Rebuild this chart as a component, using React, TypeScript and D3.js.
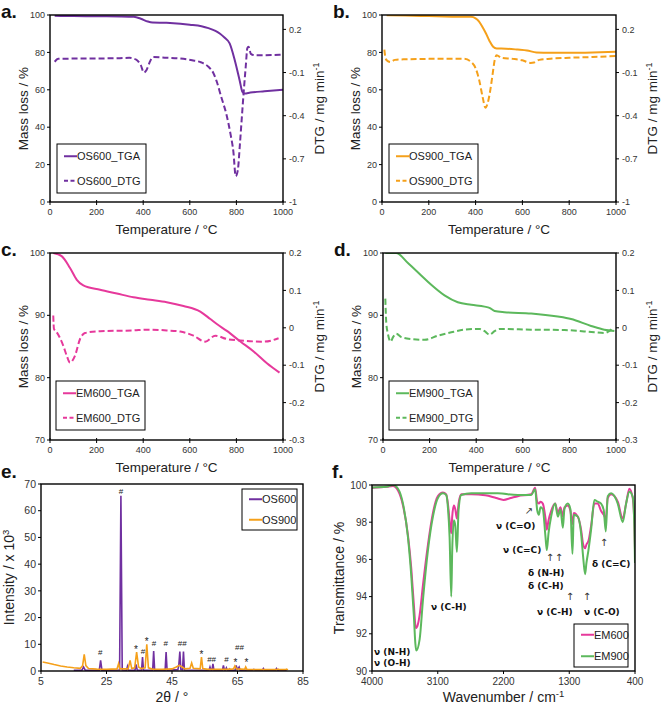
import React from 'react';
import * as d3 from 'd3';

const FONT = '"Liberation Sans", Arial, sans-serif';

// ---------- TGA / DTG data (temperature °C, value) ----------
const TEMP_TICKS = [0, 200, 400, 600, 800, 1000];

const OS600_TGA = [[20, 99.6], [100, 99.4], [200, 99.3], [300, 99.2], [360, 99], [390, 98], [420, 96.5], [440, 96], [500, 95.8], [560, 95.3], [600, 94.8], [650, 94], [680, 93], [710, 91.5], [730, 90], [750, 87.8], [771, 84.8], [793, 75.8], [814, 65], [826, 58.8], [835, 58], [860, 58.5], [920, 59.2], [1000, 60]];
const OS600_DTG = [[20, -0.025], [35, -0.005], [100, -0.003], [200, -0.002], [300, 0], [340, 0.002], [370, -0.01], [390, -0.05], [403, -0.1], [415, -0.08], [430, -0.02], [443, 0.008], [500, 0.003], [560, -0.003], [610, -0.015], [650, -0.03], [680, -0.06], [700, -0.1], [715, -0.16], [735, -0.27], [757, -0.39], [775, -0.53], [787, -0.65], [797, -0.82], [806, -0.78], [815, -0.6], [823, -0.42], [832, -0.22], [840, -0.06], [847, 0.07], [852, 0.08], [862, 0.03], [880, 0.02], [950, 0.022], [1000, 0.025]];

const OS900_TGA = [[20, 99.9], [100, 99.7], [200, 99.4], [300, 99.1], [380, 99], [400, 98.2], [415, 96.5], [430, 93.5], [445, 90], [460, 86], [475, 83], [490, 82.1], [530, 82], [580, 81.5], [620, 81], [660, 80], [720, 79.8], [800, 79.8], [900, 80], [1000, 80.4]];
const OS900_DTG = [[10, 0.06], [14, 0.01], [20, -0.015], [35, -0.027], [55, -0.012], [100, -0.008], [200, -0.005], [300, -0.004], [350, -0.004], [380, -0.025], [400, -0.07], [415, -0.15], [430, -0.27], [442, -0.345], [452, -0.31], [462, -0.23], [472, -0.12], [482, -0.01], [490, 0.02], [510, 0.002], [560, -0.005], [600, -0.015], [635, -0.033], [650, -0.03], [672, -0.012], [720, -0.004], [800, 0.003], [900, 0.008], [1000, 0.015]];

const EM600_TGA = [[14, 100], [50, 99.5], [86, 97.6], [115, 95.7], [143, 94.8], [215, 94.1], [287, 93.5], [358, 92.9], [430, 92.5], [501, 92.1], [573, 91.5], [645, 90.6], [688, 89.4], [716, 88.6], [759, 87.5], [817, 85.8], [874, 84.2], [931, 82.3], [985, 80.8]];
const EM600_DTG = [[14, 0.033], [17, -0.003], [29, -0.012], [57, -0.048], [72, -0.075], [86, -0.093], [107, -0.075], [129, -0.03], [150, -0.014], [215, -0.009], [358, -0.007], [415, -0.005], [501, -0.007], [559, -0.01], [616, -0.021], [666, -0.037], [709, -0.021], [759, -0.03], [817, -0.034], [917, -0.037], [981, -0.028]];

const EM900_TGA = [[10, 100], [57, 100], [107, 98.4], [164, 96.4], [207, 94.9], [264, 93.2], [321, 92.1], [379, 91.7], [436, 91.4], [457, 91.2], [479, 90.7], [521, 90.5], [636, 90.3], [750, 89.8], [807, 89.4], [893, 88.3], [950, 87.7], [993, 87.5]];
const EM900_DTG = [[10, 0.078], [14, 0.014], [21, -0.016], [33, -0.037], [43, -0.025], [57, -0.016], [79, -0.025], [121, -0.03], [179, -0.032], [236, -0.021], [293, -0.012], [350, -0.005], [414, -0.003], [436, -0.009], [457, -0.018], [479, -0.009], [500, -0.003], [636, -0.005], [779, -0.006], [907, -0.012], [950, -0.014], [990, 0.002]];

// ---------- XRD data (2θ, intensity x10^3) ----------
const TWO_THETA_TICKS = [5, 25, 45, 65, 85];
const INTENSITY_TICKS = [0, 10, 20, 30, 40, 50, 60, 70];

const OS600_XRD = [[15, 0.3], [17.5, 0.3], [18, 1.5], [18.5, 0.3], [22.8, 0.3], [23.2, 4], [23.6, 0.3], [29, 0.4], [29.4, 65.6], [29.8, 0.4], [31.1, 0.3], [31.4, 1.7], [31.7, 0.3], [33.7, 0.3], [34, 2.5], [34.4, 0.3], [35.7, 0.3], [36, 5.2], [36.3, 0.3], [39.1, 0.3], [39.4, 7.5], [39.7, 0.3], [42.9, 0.3], [43.2, 7.1], [43.5, 0.3], [46.8, 0.5], [47.1, 2.5], [47.4, 7.3], [47.7, 0.5], [48.2, 0.4], [48.5, 7.3], [48.8, 0.4], [56.3, 0.3], [56.6, 1.5], [56.9, 0.3], [57.2, 0.3], [57.5, 2.7], [57.8, 0.3], [60.4, 0.3], [60.7, 2.1], [61, 0.3], [61.3, 0.3], [61.6, 1.2], [61.9, 0.3], [64.3, 0.3], [64.6, 2.1], [64.9, 0.5], [65.5, 1.5], [65.8, 0.3], [69.5, 0.3], [70, 0.6], [70.4, 0.3], [72.6, 0.3], [72.9, 0.9], [73.2, 0.3], [76.6, 0.3], [76.9, 0.9], [77.2, 0.3], [80, 0.3]];
const OS900_XRD = [[5.5, 3.4], [7, 3.0], [9, 2.4], [11, 1.9], [13, 1.5], [15, 1.2], [17, 1.0], [17.7, 2], [18.2, 6.2], [18.7, 2], [19.5, 0.9], [22, 0.7], [25, 0.6], [28.2, 0.8], [28.7, 2.8], [29.1, 0.8], [31.6, 0.8], [32.2, 4], [32.7, 0.9], [33.6, 1.2], [34.2, 7.1], [34.8, 1.5], [35.6, 0.9], [36.8, 1.2], [37.3, 10], [37.8, 1.2], [39, 0.7], [42, 0.6], [45, 0.8], [46.3, 1.5], [47.2, 2.1], [48, 1.6], [49, 0.8], [50.5, 1], [51, 3], [51.5, 1], [53.6, 0.8], [54, 5.2], [54.4, 0.9], [56, 0.6], [62.2, 0.6], [62.6, 0.9], [63, 0.6], [63.8, 0.8], [64.2, 1.9], [64.7, 0.8], [67.2, 0.6], [67.5, 1.5], [67.9, 0.5], [77, 0.5], [77.4, 0.7], [77.8, 0.5], [79.6, 0.5], [80, 0.7], [80.4, 0.4]];
const XRD_MARKS: [number, number, string][] = [[23.1, 6.9, '#'], [29.4, 67.4, '#'], [34.0, 9.3, '*'], [36.1, 7.4, '#'], [37.3, 12.4, '*'], [39.5, 10.3, '#'], [43.1, 10.3, '#'], [48.1, 10.3, '##'], [54.0, 7.4, '*'], [57.1, 4.3, '##'], [61.6, 4.3, '#'], [64.4, 4.6, '*'], [65.6, 8.8, '##'], [67.7, 4.6, '*']];

// ---------- FTIR data (wavenumber cm-1, transmittance %) ----------
const WAVENUMBER_TICKS = [4000, 3100, 2200, 1300, 400];
const TRANSMITTANCE_TICKS = [90, 92, 94, 96, 98, 100];

const EM600_FTIR = [[4000, 99.85], [3800, 99.9], [3713, 99.95], [3644, 99.7], [3576, 98.9], [3508, 97.3], [3462, 95.5], [3426, 93.5], [3400, 92.3], [3380, 92.4], [3348, 93], [3303, 94.6], [3234, 96.8], [3166, 98.5], [3098, 99.4], [3029, 99.6], [2984, 99.5], [2961, 99.0], [2938, 98.1], [2915, 97.4], [2902, 98.3], [2879, 98.9], [2860, 98.7], [2838, 98.2], [2815, 99.0], [2779, 99.5], [2642, 99.5], [2450, 99.45], [2300, 99.3], [2200, 99.2], [2100, 99.3], [2004, 99.4], [1821, 99.5], [1767, 99.85], [1739, 99.1], [1716, 99.0], [1694, 99.1], [1662, 99.0], [1625, 98.2], [1607, 97.6], [1584, 98.1], [1548, 98.6], [1493, 99.0], [1456, 98.5], [1420, 98.8], [1388, 98.3], [1366, 98.8], [1320, 98.9], [1284, 98.6], [1256, 97.9], [1238, 98.5], [1183, 98.3], [1138, 97.6], [1109, 96.8], [1083, 96.6], [1065, 96.8], [1037, 97.0], [1001, 97.8], [956, 99.0], [910, 99.0], [864, 98.6], [828, 98.4], [800, 98.2], [773, 99.3], [727, 99.5], [636, 99.1], [568, 98.2], [522, 99.0], [477, 99.8], [431, 99.3], [408, 97.8], [400, 96.5]];
const EM900_FTIR = [[4000, 99.87], [3800, 99.9], [3713, 100], [3644, 99.8], [3576, 99.0], [3508, 97.2], [3462, 95.1], [3426, 92.9], [3407, 91.5], [3394, 91.1], [3348, 91.7], [3303, 93.8], [3234, 96.5], [3166, 98.3], [3098, 99.3], [3029, 99.55], [2984, 99.46], [2961, 98.8], [2938, 97.2], [2915, 94], [2902, 96.5], [2879, 98.1], [2860, 97.8], [2838, 96.4], [2815, 98.65], [2779, 99.46], [2642, 99.55], [2277, 99.55], [2004, 99.46], [1821, 99.46], [1767, 99.77], [1739, 98.65], [1716, 98.4], [1694, 98.8], [1662, 98.7], [1625, 97.2], [1607, 96.5], [1584, 97.4], [1548, 98.3], [1493, 99.0], [1456, 98.3], [1420, 98.7], [1388, 97.7], [1366, 98.7], [1320, 99.0], [1284, 98.7], [1256, 96.3], [1238, 98.4], [1183, 98.3], [1138, 97.4], [1109, 96.1], [1083, 95.2], [1065, 95.8], [1037, 96.5], [1001, 97.6], [956, 99.2], [910, 99.1], [864, 99.0], [828, 98.65], [800, 97.5], [773, 99.4], [727, 99.55], [636, 99.0], [568, 98.0], [522, 99.0], [477, 99.64], [431, 99.37], [408, 97.6], [400, 95.8]];

const PURPLE = '#7030a0';
const ORANGE = '#f5a01a';
const MAGENTA = '#e6399b';
const GREEN = '#5cb85c';

type Pt = number[];
type Box = { x0: number; x1: number; y0: number; y1: number };

function fmtNum(d: number) {
  return d3.format('~g')(d).replace('−', '-');
}

function Frame({ box }: { box: Box }) {
  return <rect x={box.x0} y={box.y0} width={box.x1 - box.x0} height={box.y1 - box.y0} fill="none" stroke="#000" strokeWidth={1.4} />;
}

function Legend({ x, y, w, h, items, fs }: { x: number; y: number; w: number; h: number; fs: number; items: { name: string; color: string; dash?: string }[] }) {
  const rowH = h / items.length;
  return (
    <g>
      <rect x={x} y={y} width={w} height={h} fill="#fff" stroke="#000" strokeWidth={1} />
      {items.map((it, i) => {
        const cy = y + rowH * (i + 0.5);
        return (
          <g key={it.name}>
            <line x1={x + 7} x2={x + 20} y1={cy} y2={cy} stroke={it.color} strokeWidth={2} strokeDasharray={it.dash} />
            <text x={x + 20} y={cy} dy="0.35em" fontSize={fs} fontFamily={FONT} fill="#222">{it.name}</text>
          </g>
        );
      })}
    </g>
  );
}

type TgaProps = {
  box: Box; label: string; leftDomain: number[]; leftTicks: number[]; rightDomain: number[]; rightTicks: number[];
  tga: Pt[]; dtg: Pt[]; color: string; names: string[]; legend: { x: number; y: number };
};

function TgaPanel(p: TgaProps) {
  const { x0, x1, y0, y1 } = p.box;
  const x = d3.scaleLinear().domain([0, 1000]).range([x0, x1]);
  const yL = d3.scaleLinear().domain(p.leftDomain).range([y1, y0]);
  const yR = d3.scaleLinear().domain(p.rightDomain).range([y1, y0]);
  const lineL = d3.line<Pt>().x(d => x(d[0])).y(d => yL(d[1])).curve(d3.curveMonotoneX);
  const lineR = d3.line<Pt>().x(d => x(d[0])).y(d => yR(d[1])).curve(d3.curveMonotoneX);
  const clipId = 'clip-' + p.label;
  const midY = (y0 + y1) / 2;
  return (
    <g>
      <defs>
        <clipPath id={clipId}><rect x={x0} y={y0} width={x1 - x0} height={y1 - y0} /></clipPath>
      </defs>
      <g clipPath={`url(#${clipId})`}>
        <path d={lineR(p.dtg) || ''} fill="none" stroke={p.color} strokeWidth={2} strokeDasharray="6,3" />
        <path d={lineL(p.tga) || ''} fill="none" stroke={p.color} strokeWidth={2} />
      </g>
      <Frame box={p.box} />
      {TEMP_TICKS.map(t => (
        <g key={'x' + t}>
          <line x1={x(t)} x2={x(t)} y1={y1 - 2} y2={y1 + 3} stroke="#000" />
          <text x={x(t)} y={y1 + 13} textAnchor="middle" fontSize={9} fontFamily={FONT} fill="#333">{t}</text>
        </g>
      ))}
      {p.leftTicks.map(t => (
        <g key={'l' + t}>
          <line x1={x0 - 3} x2={x0} y1={yL(t)} y2={yL(t)} stroke="#000" />
          <text x={x0 - 5} y={yL(t)} dy="0.35em" textAnchor="end" fontSize={9} fontFamily={FONT} fill="#333">{t}</text>
        </g>
      ))}
      {p.rightTicks.map(t => (
        <g key={'r' + t}>
          <line x1={x1} x2={x1 + 3} y1={yR(t)} y2={yR(t)} stroke="#000" />
          <text x={x1 + 6} y={yR(t)} dy="0.35em" fontSize={9} fontFamily={FONT} fill="#333">{fmtNum(t)}</text>
        </g>
      ))}
      <text x={(x0 + x1) / 2} y={y1 + 32} textAnchor="middle" fontSize={13.5} fontFamily={FONT} fill="#222">Temperature / °C</text>
      <text transform={`translate(${x0 - 22},${midY}) rotate(-90)`} textAnchor="middle" fontSize={13.5} fontFamily={FONT} fill="#222">Mass loss / %</text>
      <text transform={`translate(${x1 + 41},${midY}) rotate(-90)`} textAnchor="middle" fontSize={13.5} fontFamily={FONT} fill="#222">
        DTG / mg min<tspan dy={-5} fontSize={9}>-1</tspan>
      </text>
      <text x={x0 - 49} y={y0 + 3} fontSize={19} fontWeight="bold" fontFamily={FONT} fill="#111">{p.label}</text>
      <Legend x={p.legend.x} y={p.legend.y} w={89} h={49} fs={11}
        items={[{ name: p.names[0], color: p.color }, { name: p.names[1], color: p.color, dash: '4,2.5' }]} />
    </g>
  );
}

function XrdPanel() {
  const box = { x0: 41, x1: 303, y0: 484, y1: 671 };
  const x = d3.scaleLinear().domain([5, 85]).range([box.x0, box.x1]);
  const y = d3.scaleLinear().domain([0, 70]).range([box.y1, box.y0]);
  const line = d3.line<Pt>().x(d => x(d[0])).y(d => y(d[1]));
  return (
    <g>
      <path d={line(OS600_XRD) || ''} fill="none" stroke={PURPLE} strokeWidth={1.6} />
      <path d={line(OS900_XRD) || ''} fill="none" stroke={ORANGE} strokeWidth={1.6} />
      {XRD_MARKS.map(([t, v, s], i) => (
        <text key={i} x={x(t)} y={y(v)} dy={s === '*' ? '0.7em' : '0.35em'} textAnchor="middle" fontSize={s === '*' ? 10 : 8} fontFamily={FONT} fill="#222">{s}</text>
      ))}
      <Frame box={box} />
      {TWO_THETA_TICKS.map(t => (
        <g key={'x' + t}>
          <line x1={x(t)} x2={x(t)} y1={box.y1} y2={box.y1 + 3} stroke="#000" />
          <text x={x(t)} y={box.y1 + 14} textAnchor="middle" fontSize={10.5} fontFamily={FONT} fill="#333">{t}</text>
        </g>
      ))}
      {INTENSITY_TICKS.map(t => (
        <g key={'y' + t}>
          <line x1={box.x0 - 3} x2={box.x0} y1={y(t)} y2={y(t)} stroke="#000" />
          <text x={box.x0 - 5} y={y(t)} dy="0.35em" textAnchor="end" fontSize={10.5} fontFamily={FONT} fill="#333">{t}</text>
        </g>
      ))}
      <text x={(box.x0 + box.x1) / 2} y={box.y1 + 31} textAnchor="middle" fontSize={14} fontFamily={FONT} fill="#222">2θ / °</text>
      <text transform={`translate(14,${(box.y0 + box.y1) / 2}) rotate(-90)`} textAnchor="middle" fontSize={14} fontFamily={FONT} fill="#222">
        Intensity / x 10<tspan dy={-5} fontSize={9.5}>3</tspan>
      </text>
      <text x={1} y={478} fontSize={19} fontWeight="bold" fontFamily={FONT} fill="#111">e.</text>
      <Legend x={242} y={489} w={55} h={41} fs={11} items={[{ name: 'OS600', color: PURPLE }, { name: 'OS900', color: ORANGE }]} />
    </g>
  );
}

const FTIR_NOTES: [number, number, string][] = [
  [374, 655, 'ν (N-H)'],
  [374, 666, 'ν (O-H)'],
  [431, 610, 'ν (C-H)'],
  [496, 529, 'ν (C=O)'],
  [503, 553, 'ν (C=C)'],
  [528, 576, 'δ (N-H)'],
  [528, 589, 'δ (C-H)'],
  [537, 615, 'ν (C-H)'],
  [584, 615, 'ν (C-O)'],
  [592, 567, 'δ (C=C)'],
];
const FTIR_ARROWS: [number, number, string][] = [
  [529, 514, '↗'], [550, 561, '↑'], [559, 561, '↑'], [570, 600, '↑'], [587, 600, '↑'], [604, 546, '↑'],
];

function FtirPanel() {
  const box = { x0: 372, x1: 635, y0: 485, y1: 671 };
  const x = d3.scaleLinear().domain([4000, 400]).range([box.x0, box.x1]);
  const y = d3.scaleLinear().domain([90, 100]).range([box.y1, box.y0]);
  const line = d3.line<Pt>().x(d => x(d[0])).y(d => y(d[1])).curve(d3.curveMonotoneX);
  return (
    <g>
      <defs>
        <clipPath id="clip-f"><rect x={box.x0} y={box.y0} width={box.x1 - box.x0} height={box.y1 - box.y0} /></clipPath>
      </defs>
      <g clipPath="url(#clip-f)">
        <path d={line(EM600_FTIR) || ''} fill="none" stroke={MAGENTA} strokeWidth={2} />
        <path d={line(EM900_FTIR) || ''} fill="none" stroke={GREEN} strokeWidth={2} />
      </g>
      <Frame box={box} />
      {WAVENUMBER_TICKS.map(t => (
        <g key={'x' + t}>
          <line x1={x(t)} x2={x(t)} y1={box.y1} y2={box.y1 + 3} stroke="#000" />
          <text x={x(t)} y={box.y1 + 14} textAnchor="middle" fontSize={10} fontFamily={FONT} fill="#333">{t}</text>
        </g>
      ))}
      {TRANSMITTANCE_TICKS.map(t => (
        <g key={'y' + t}>
          <line x1={box.x0 - 3} x2={box.x0} y1={y(t)} y2={y(t)} stroke="#000" />
          <text x={box.x0 - 5} y={y(t)} dy="0.35em" textAnchor="end" fontSize={10} fontFamily={FONT} fill="#333">{t}</text>
        </g>
      ))}
      {FTIR_NOTES.map(([nx, ny, s], i) => (
        <text key={'n' + i} x={nx} y={ny} fontSize={9} fontWeight="bold" fontFamily='"DejaVu Sans", sans-serif' fill="#111">{s}</text>
      ))}
      {FTIR_ARROWS.map(([ax, ay, s], i) => (
        <text key={'a' + i} x={ax} y={ay} textAnchor="middle" fontSize={10} fontFamily='"DejaVu Sans", sans-serif' fill="#333">{s}</text>
      ))}
      <text x={(box.x0 + box.x1) / 2} y={box.y1 + 31} textAnchor="middle" fontSize={14} fontFamily={FONT} fill="#222">
        Wavenumber / cm<tspan dy={-5} fontSize={9.5}>-1</tspan>
      </text>
      <text transform={`translate(344,${(box.y0 + box.y1) / 2}) rotate(-90)`} textAnchor="middle" fontSize={14} fontFamily={FONT} fill="#222">Transmittance / %</text>
      <text x={332} y={478} fontSize={19} fontWeight="bold" fontFamily={FONT} fill="#111">f.</text>
      <Legend x={574} y={624} w={54} h={43} fs={11} items={[{ name: 'EM600', color: MAGENTA }, { name: 'EM900', color: GREEN }]} />
    </g>
  );
}

export default function App() {
  return (
    <svg width={662} height={708} style={{ display: 'block', position: 'absolute', left: 0, top: 0, background: '#fff' }}>
      <TgaPanel box={{ x0: 50, x1: 283, y0: 15, y1: 202 }} label="a." leftDomain={[0, 100]} leftTicks={[0, 20, 40, 60, 80, 100]}
        rightDomain={[-1, 0.3]} rightTicks={[-1, -0.7, -0.4, -0.1, 0.2]} tga={OS600_TGA} dtg={OS600_DTG} color={PURPLE}
        names={['OS600_TGA', 'OS600_DTG']} legend={{ x: 57, y: 144 }} />
      <TgaPanel box={{ x0: 382, x1: 616, y0: 15, y1: 202 }} label="b." leftDomain={[0, 100]} leftTicks={[0, 20, 40, 60, 80, 100]}
        rightDomain={[-1, 0.3]} rightTicks={[-1, -0.7, -0.4, -0.1, 0.2]} tga={OS900_TGA} dtg={OS900_DTG} color={ORANGE}
        names={['OS900_TGA', 'OS900_DTG']} legend={{ x: 389, y: 144 }} />
      <TgaPanel box={{ x0: 50, x1: 283, y0: 253, y1: 440 }} label="c." leftDomain={[70, 100]} leftTicks={[70, 80, 90, 100]}
        rightDomain={[-0.3, 0.2]} rightTicks={[-0.3, -0.2, -0.1, 0, 0.1, 0.2]} tga={EM600_TGA} dtg={EM600_DTG} color={MAGENTA}
        names={['EM600_TGA', 'EM600_DTG']} legend={{ x: 56, y: 381 }} />
      <TgaPanel box={{ x0: 383, x1: 616, y0: 253, y1: 440 }} label="d." leftDomain={[70, 100]} leftTicks={[70, 80, 90, 100]}
        rightDomain={[-0.3, 0.2]} rightTicks={[-0.3, -0.2, -0.1, 0, 0.1, 0.2]} tga={EM900_TGA} dtg={EM900_DTG} color={GREEN}
        names={['EM900_TGA', 'EM900_DTG']} legend={{ x: 389, y: 381 }} />
      <XrdPanel />
      <FtirPanel />
    </svg>
  );
}
